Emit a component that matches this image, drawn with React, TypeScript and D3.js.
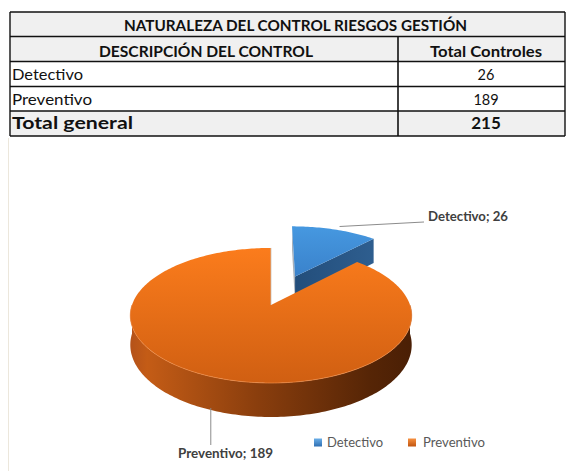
import React from "react";
import * as d3 from "d3";

const tableTitle = "NATURALEZA DEL CONTROL RIESGOS GESTIÓN";
const headers = ["DESCRIPCIÓN DEL CONTROL", "Total Controles"];
const categories = ["Detectivo", "Preventivo"];
const values = [26, 189];
const totalLabel = "Total general";
const total = 215;

const FONT = "Lato, 'Open Sans', sans-serif";

// 3D pie projection parameters
const CX = 271, CY = 305, SX = 139, SY = 65.9, DEPTH = 28.7, PERSP = 0.155;
const explode = [0.5, 0];

function proj(X: number, Y: number, Z: number): [number, number] {
  const s = 1 / (1 + PERSP * Y);
  return [CX + SX * X * s, CY + (-SY * Y + DEPTH * Z) * s];
}

function rimPts(a0: number, a1: number, ox: number, oy: number, z: number) {
  const n = Math.max(2, Math.ceil(Math.abs(a1 - a0) / 0.02));
  const pts: [number, number][] = [];
  for (let i = 0; i <= n; i++) {
    const a = a0 + ((a1 - a0) * i) / n;
    pts.push(proj(ox + Math.sin(a), oy + Math.cos(a), z));
  }
  return pts;
}

const line = d3.line();

function T(props: any) {
  const { w, children, ...rest } = props;
  return (
    <text fontFamily={FONT} fill="#111" textLength={w} lengthAdjust="spacingAndGlyphs" {...rest}>
      {children}
    </text>
  );
}

export default function App() {
  const pie = d3.pie<number>().sort(null).startAngle(0).endAngle(2 * Math.PI);
  const arcs = pie(values);

  const tL = 10, tR = 565, colX = 398;
  const rows = [12, 36.5, 61.5, 86.5, 111, 136];
  const valX = 486;

  const slices = arcs.map((a, i) => {
    const mid = (a.startAngle + a.endAngle) / 2;
    const ox = explode[i] * Math.sin(mid);
    const oy = explode[i] * Math.cos(mid);
    const apexT = proj(ox, oy, 0);
    const apexB = proj(ox, oy, 1);
    const top = [apexT, ...rimPts(a.startAngle, a.endAngle, ox, oy, 0), apexT];
    const s0 = Math.max(a.startAngle, Math.PI / 2);
    const s1 = Math.min(a.endAngle, (3 * Math.PI) / 2);
    let side: [number, number][] | null = null;
    let rimEdge: [number, number][] | null = null;
    if (s1 > s0) {
      const t = rimPts(s0, s1, ox, oy, 0);
      const b = rimPts(s1, s0, ox, oy, 1);
      side = [...t, ...b];
      rimEdge = t;
    }
    const eX = ox + Math.sin(a.endAngle), eY = oy + Math.cos(a.endAngle);
    const sX = ox + Math.sin(a.startAngle), sY = oy + Math.cos(a.startAngle);
    const endFace = [apexT, proj(eX, eY, 0), proj(eX, eY, 1), apexB];
    const startFace = [apexT, proj(sX, sY, 0), proj(sX, sY, 1), apexB];
    const endEdge = [apexT, proj(eX, eY, 0)];
    return { a, mid, ox, oy, top, side, rimEdge, endFace, startFace, endEdge };
  });

  const det = slices[0];
  const pre = slices[1];

  const detAnchor = proj(det.ox + Math.sin(det.mid), det.oy + Math.cos(det.mid), 0);
  const preAnchor = proj(pre.ox + Math.sin(pre.mid), pre.oy + Math.cos(pre.mid), 1);

  return (
    <svg width={566} height={471} style={{ position: "absolute", left: 0, top: 0, background: "#fff" }}>
      <defs>
        <linearGradient id="oTop" x1="0" y1="0" x2="0" y2="1">
          <stop offset="0" stopColor="#fb7c1c" />
          <stop offset="1" stopColor="#d05f12" />
        </linearGradient>
        <linearGradient id="oSide" x1="0" y1="0" x2="1" y2="0">
          <stop offset="0" stopColor="#b4521a" />
          <stop offset="0.06" stopColor="#c45c16" />
          <stop offset="0.45" stopColor="#8a3e0d" />
          <stop offset="0.85" stopColor="#562506" />
          <stop offset="1" stopColor="#4a1f05" />
        </linearGradient>
        <linearGradient id="bTop" x1="0" y1="0" x2="0" y2="1">
          <stop offset="0" stopColor="#4698e0" />
          <stop offset="1" stopColor="#3a82cb" />
        </linearGradient>
        <linearGradient id="bSide" x1="0" y1="0" x2="1" y2="0">
          <stop offset="0" stopColor="#234e7b" />
          <stop offset="1" stopColor="#2e5e8f" />
        </linearGradient>
        <linearGradient id="legB" x1="0" y1="0" x2="0" y2="1">
          <stop offset="0" stopColor="#6aaee8" />
          <stop offset="1" stopColor="#2f6fb2" />
        </linearGradient>
        <linearGradient id="legO" x1="0" y1="0" x2="0" y2="1">
          <stop offset="0" stopColor="#f79040" />
          <stop offset="1" stopColor="#c05510" />
        </linearGradient>
      </defs>

      <line x1={8.5} x2={8.5} y1={138} y2={471} stroke="#ece7dc" strokeWidth={1} />

      {/* table */}
      <rect x={tL} y={rows[0]} width={tR - tL} height={rows[2] - rows[0]} fill="#f0f0f0" />
      <rect x={tL} y={rows[4]} width={tR - tL} height={rows[5] - rows[4]} fill="#f0f0f0" />
      {rows.map((y, i) => (
        <line key={i} x1={tL} x2={tR} y1={y} y2={y} stroke="#111" strokeWidth={1.4} />
      ))}
      <line x1={tL} x2={tL} y1={rows[0]} y2={rows[5]} stroke="#111" strokeWidth={1.4} />
      <line x1={tR} x2={tR} y1={rows[0]} y2={rows[5]} stroke="#111" strokeWidth={1.4} />
      <line x1={colX} x2={colX} y1={rows[1]} y2={rows[5]} stroke="#111" strokeWidth={1.6} />

      <T x={124} y={31} w={343} fontWeight="bold" fontSize={15}>{tableTitle}</T>
      <T x={99} y={56.5} w={214} fontWeight="bold" fontSize={15}>{headers[0]}</T>
      <T x={430} y={56.5} w={112} fontWeight="bold" fontSize={15}>{headers[1]}</T>
      {categories.map((c, i) => (
        <g key={c}>
          <T x={12} y={rows[2 + i] + 18.5} w={i === 0 ? 71 : 80} fontSize={14.5}>{c}</T>
          <text x={valX} y={rows[2 + i] + 18.5} textAnchor="middle" fontFamily={FONT} fontSize={14.5} fill="#111">{values[i]}</text>
        </g>
      ))}
      <T x={12} y={129} w={121} fontWeight="bold" fontSize={17}>{totalLabel}</T>
      <text x={valX} y={129} textAnchor="middle" fontFamily={FONT} fontWeight="bold" fontSize={17} fill="#111">{total}</text>

      {/* Detectivo (exploded, behind) */}
      <path d={line(det.startFace as any) + "Z"} fill="#a8b0ba" />
      <path d={line(det.endFace as any) + "Z"} fill="url(#bSide)" />
      <path d={line(det.top as any) + "Z"} fill="url(#bTop)" />

      {/* Preventivo */}
      {pre.side && <path d={line(pre.side as any) + "Z"} fill="url(#oSide)" />}
      <path d={line(pre.top as any) + "Z"} fill="url(#oTop)" />
      {pre.rimEdge && <path d={line(pre.rimEdge as any) ?? ""} fill="none" stroke="#ee8a44" strokeWidth={0.9} opacity={0.8} />}
      <path d={line(pre.endEdge as any) ?? ""} fill="none" stroke="#c9c3bd" strokeWidth={0.8} />

      {/* data labels */}
      <polyline points={`${detAnchor[0] + 5},${detAnchor[1] - 3} 424,222`} fill="none" stroke="#8c8c8c" strokeWidth={1} />
      <T x={428} y={221} w={80} fontWeight="bold" fontSize={13} fill="#404040">
        {`${categories[0]}; ${values[0]}`}
      </T>
      <line x1={preAnchor[0]} x2={preAnchor[0]} y1={preAnchor[1] - 2} y2={445} stroke="#8c8c8c" strokeWidth={1} />
      <T x={178} y={458} w={95} fontWeight="bold" fontSize={13} fill="#404040">
        {`${categories[1]}; ${values[1]}`}
      </T>

      {/* legend */}
      <rect x={314} y={438.5} width={8} height={8} fill="url(#legB)" />
      <T x={327} y={447} w={56} fontSize={12.5} fill="#595959">{categories[0]}</T>
      <rect x={408} y={438.5} width={8} height={8} fill="url(#legO)" />
      <T x={423} y={447} w={62} fontSize={12.5} fill="#595959">{categories[1]}</T>
    </svg>
  );
}
